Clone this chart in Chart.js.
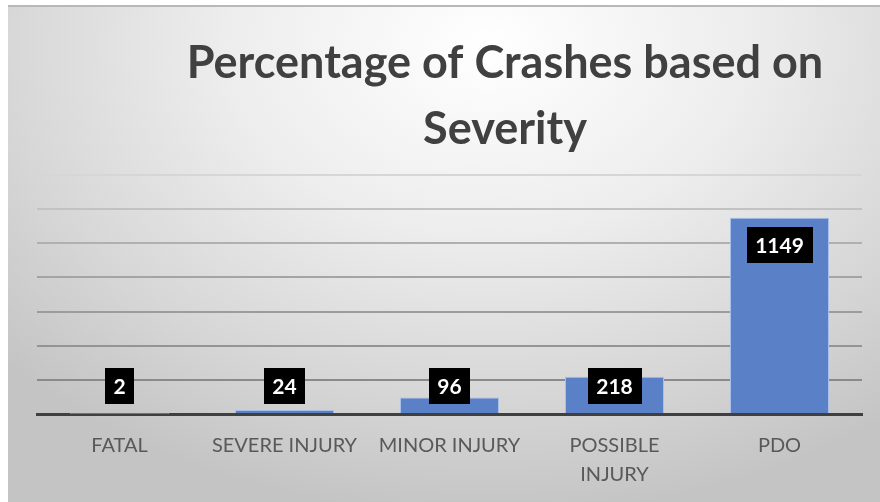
<!DOCTYPE html>
<html>
<head>
<meta charset="utf-8">
<script src="https://cdn.jsdelivr.net/npm/chart.js@4.4.0/dist/chart.umd.min.js"></script>
<style>
    body { margin: 0; background: #fff; }
    #wrap {
        position: absolute; left: 8px; top: 5px; width: 872px; height: 497px;
        border-top: 2px solid #b8b8b8; box-sizing: border-box;
        background: radial-gradient(ellipse 75% 95% at 55% 8%, #ffffff 0%, #ededed 40%, #d6d6d6 75%, #c4c4c4 100%);
    }
</style>
</head>
<body>
<div id="wrap"><canvas id="myChart"></canvas></div>
<script>
var categories = ["FATAL", "SEVERE INJURY", "MINOR INJURY", ["POSSIBLE", "INJURY"], "PDO"];
var crashCounts = [2, 24, 96, 218, 1149];
var titleLines = ["Percentage of Crashes based on", "Severity"];

// title drawn by hand, it sits right of centre in the original
var titlePlugin = {
    id: "titleText",
    afterDraw: function (chart) {
        var ctx = chart.ctx;
        ctx.save();
        ctx.font = "bold 45px Lato";
        ctx.fillStyle = "#404040";
        ctx.textAlign = "center";
        ctx.textBaseline = "alphabetic";
        ctx.fillText(titleLines[0], 497, 71);
        ctx.fillText(titleLines[1], 497, 137);
        ctx.restore();
    }
};

// black boxes with white numbers, inside the top of each bar
var labelPlugin = {
    id: "boxLabels",
    afterDatasetsDraw: function (chart) {
        var ctx = chart.ctx;
        var meta = chart.getDatasetMeta(0);
        ctx.save();
        ctx.font = "bold 21px Lato";
        ctx.textAlign = "center";
        ctx.textBaseline = "middle";
        meta.data.forEach(function (bar, i) {
            var txt = String(crashCounts[i]);
            var w = ctx.measureText(txt).width + 17;
            var h = 36;
            var cy = Math.min(bar.y + 9 + h / 2, bar.base - 9 - h / 2);
            ctx.fillStyle = "#000";
            ctx.fillRect(Math.round(bar.x - w / 2), Math.round(cy - h / 2), Math.round(w), h);
            ctx.fillStyle = "#fff";
            ctx.fillText(txt, bar.x, cy + 1);
        });
        ctx.restore();
    }
};

var gridGrays = ["#404040", "#8a8a8a", "#949494", "#9c9c9c", "#a4a4a4", "#b0b0b0", "#c2c2c2", "#d6d6d6"];

new Chart("myChart", {
    type: "bar",
    data: {
        labels: categories,
        datasets: [{
            data: crashCounts,
            backgroundColor: "#5a80c8",
            borderColor: "#a9bfe6",
            borderWidth: 1,
            categoryPercentage: 1,
            barPercentage: 0.6
        }]
    },
    options: {
        responsive: true,
        maintainAspectRatio: false,
        animation: false,
        layout: {padding: {left: 29, right: 18, top: 168, bottom: 0}},
        plugins: {
            legend: {display: false},
            title: {display: false},
            tooltip: {enabled: false}
        },
        scales: {
            x: {
                grid: {display: false, drawTicks: false},
                border: {color: "#404040", width: 3},
                afterFit: function (scale) { scale.height = 88; },
                ticks: {
                    color: "#595959",
                    font: {family: "Lato", size: 20, lineHeight: 1.45},
                    padding: 17,
                    maxRotation: 0,
                    autoSkip: false
                }
            },
            y: {
                min: 0,
                max: 1400,
                ticks: {display: false, stepSize: 200},
                border: {display: false},
                grid: {
                    drawTicks: false,
                    lineWidth: 2,
                    color: function (c) { return gridGrays[c.index] || "#a0a0a0"; }
                }
            }
        }
    },
    plugins: [titlePlugin, labelPlugin]
});
</script>
</body>
</html>
